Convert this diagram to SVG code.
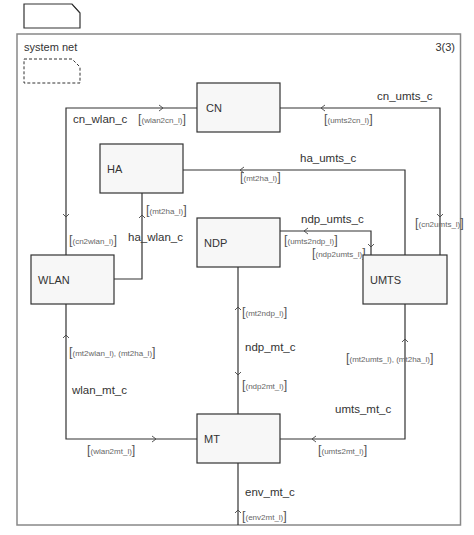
<svg xmlns="http://www.w3.org/2000/svg" width="474" height="535" viewBox="0 0 474 535">
<style>
.node rect{fill:#f7f7f7;stroke:#333;stroke-width:1.2}
.nl{font-family:"Liberation Sans",Arial,sans-serif;font-size:11px;fill:#333}
.cl{font-family:"Liberation Sans",Arial,sans-serif;font-size:11.5px;fill:#333}
.sl{font-family:"Liberation Sans",Arial,sans-serif;font-size:8px;fill:#666}
.b{font-size:12.5px;fill:#555}
.ln{fill:none;stroke:#333;stroke-width:1.2}
.ar{fill:none;stroke:#444;stroke-width:0.9}
</style>
<rect width="474" height="535" fill="#fff"/>
<path d="M24,4 H72 L80,13 V28 H24 Z" fill="#fff" stroke="#333" stroke-width="1.2"/>
<path d="M72,4 L80,13" fill="none" stroke="#333"/>
<rect x="17" y="34" width="443.5" height="491" fill="none" stroke="#888" stroke-width="1.5"/>
<text class="nl" x="24" y="51">system net</text>
<text class="nl" x="455" y="51" text-anchor="end">3(3)</text>
<path d="M24,59 H72 L80,67 V83 H24 Z" fill="none" stroke="#333" stroke-width="1" stroke-dasharray="3,2"/>
<g id="connectors">
<path class="ln" d="M197,108 H66 V255"/>
<path class="ln" d="M280,108 H440 V255"/>
<path class="ln" d="M183,170 H405 V255"/>
<path class="ln" d="M142,193 V279 H114"/>
<path class="ln" d="M280,231 H371 V255"/>
<path class="ln" d="M238,267 V414"/>
<path class="ln" d="M66,304 V439 H197"/>
<path class="ln" d="M405,304 V439 H280"/>
<path class="ln" d="M238,463 V525"/>
<path class="ar" d="M159,105 L163,108 L159,111"/>
<path class="ar" d="M63,214 L66,217 L69,214"/>
<path class="ar" d="M325,105 L321,108 L325,111"/>
<path class="ar" d="M437,214 L440,217 L443,214"/>
<path class="ar" d="M244,167 L240,170 L244,173"/>
<path class="ar" d="M139,218 L142,215 L145,218"/>
<path class="ar" d="M308,228 L304,231 L308,234"/>
<path class="ar" d="M368,244 L371,247 L374,244"/>
<path class="ar" d="M235,310 L238,307 L241,310"/>
<path class="ar" d="M235,372 L238,375 L241,372"/>
<path class="ar" d="M63,338 L66,335 L69,338"/>
<path class="ar" d="M152,436 L156,439 L152,442"/>
<path class="ar" d="M402,342 L405,339 L408,342"/>
<path class="ar" d="M316,436 L312,439 L316,442"/>
<path class="ar" d="M235,513 L238,510 L241,513"/>
<text class="cl" x="73" y="123">cn_wlan_c</text>
<text class="sl" x="138" y="123"><tspan class="b">[</tspan>(wlan2cn_l)<tspan class="b">]</tspan></text>
<text class="cl" x="377" y="100">cn_umts_c</text>
<text class="sl" x="324" y="123"><tspan class="b">[</tspan>(umts2cn_l)<tspan class="b">]</tspan></text>
<text class="sl" x="415" y="227"><tspan class="b">[</tspan>(cn2umts_l)<tspan class="b">]</tspan></text>
<text class="cl" x="300" y="162">ha_umts_c</text>
<text class="sl" x="240" y="181"><tspan class="b">[</tspan>(mt2ha_l)<tspan class="b">]</tspan></text>
<text class="sl" x="146" y="214"><tspan class="b">[</tspan>(mt2ha_l)<tspan class="b">]</tspan></text>
<text class="cl" x="128" y="241">ha_wlan_c</text>
<text class="sl" x="69" y="244"><tspan class="b">[</tspan>(cn2wlan_l)<tspan class="b">]</tspan></text>
<text class="cl" x="301" y="223">ndp_umts_c</text>
<text class="sl" x="284" y="244"><tspan class="b">[</tspan>(umts2ndp_l)<tspan class="b">]</tspan></text>
<text class="sl" x="312" y="257"><tspan class="b">[</tspan>(ndp2umts_l)<tspan class="b">]</tspan></text>
<text class="sl" x="242" y="316"><tspan class="b">[</tspan>(mt2ndp_l)<tspan class="b">]</tspan></text>
<text class="cl" x="245" y="351">ndp_mt_c</text>
<text class="sl" x="242" y="389"><tspan class="b">[</tspan>(ndp2mt_l)<tspan class="b">]</tspan></text>
<text class="sl" x="69" y="356"><tspan class="b">[</tspan>(mt2wlan_l), (mt2ha_l)<tspan class="b">]</tspan></text>
<text class="cl" x="72" y="394">wlan_mt_c</text>
<text class="sl" x="87" y="454"><tspan class="b">[</tspan>(wlan2mt_l)<tspan class="b">]</tspan></text>
<text class="sl" x="346" y="362"><tspan class="b">[</tspan>(mt2umts_l), (mt2ha_l)<tspan class="b">]</tspan></text>
<text class="cl" x="335" y="413">umts_mt_c</text>
<text class="sl" x="318" y="454"><tspan class="b">[</tspan>(umts2mt_l)<tspan class="b">]</tspan></text>
<text class="cl" x="245" y="496">env_mt_c</text>
<text class="sl" x="242" y="520"><tspan class="b">[</tspan>(env2mt_l)<tspan class="b">]</tspan></text>
</g>
<g id="CN" class="node"><rect x="197" y="83" width="83" height="49"/><text class="nl" x="206" y="112">CN</text></g>
<g id="HA" class="node"><rect x="100" y="144" width="83" height="49"/><text class="nl" x="107" y="173">HA</text></g>
<g id="NDP" class="node"><rect x="197" y="218" width="83" height="49"/><text class="nl" x="204" y="247">NDP</text></g>
<g id="WLAN" class="node"><rect x="31" y="255" width="83" height="49"/><text class="nl" x="38" y="284">WLAN</text></g>
<g id="UMTS" class="node"><rect x="363" y="255" width="84" height="49"/><text class="nl" x="370" y="284">UMTS</text></g>
<g id="MT" class="node"><rect x="197" y="414" width="83" height="49"/><text class="nl" x="204" y="443">MT</text></g>
</svg>
